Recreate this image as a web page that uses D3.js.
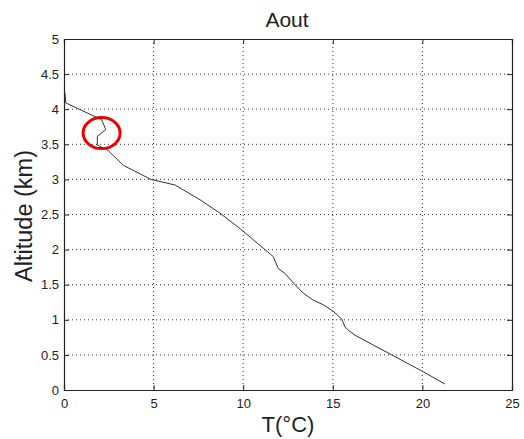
<!DOCTYPE html>
<html><head><meta charset="utf-8">
<script src="https://cdn.jsdelivr.net/npm/d3@7"></script>
<style>body{margin:0;background:#fff}svg{display:block}text{font-family:"Liberation Sans",Arial,sans-serif;fill:#222}</style>
</head><body><svg id="c" width="524" height="439"></svg>
<script>
const title = "Aout";
const xLabel = "T(°C)";
const yLabel = "Altitude (km)";
const xTicks = [0,5,10,15,20,25];
const yTicks = [0,0.5,1,1.5,2,2.5,3,3.5,4,4.5,5];
const yTickLabels = ["0","0.5","1","1.5","2","2.5","3","3.5","4","4.5","5"];
const temperature = [0.0,0.05,0.1,2.1,2.33,1.86,1.86,2.47,3.31,4.85,6.2,6.66,7.59,8.7,9.92,11.12,11.68,11.96,12.33,12.89,13.35,13.91,14.5,15.03,15.5,15.68,15.87,16.24,17.26,18.29,19.31,20.05,21.26];
const altitude    = [4.25,4.24,4.09,3.85,3.71,3.61,3.49,3.41,3.2,3.0,2.92,2.85,2.71,2.52,2.28,2.02,1.9,1.73,1.66,1.5,1.38,1.28,1.21,1.12,1.01,0.9,0.85,0.78,0.64,0.5,0.36,0.26,0.085];
const marker = {t:2.1, a:3.66};

const svg = d3.select("#c");
const L=64,R=512,T=39,B=390;
const x = d3.scaleLinear().domain([0,25]).range([L,R]);
const y = d3.scaleLinear().domain([0,5]).range([B,T]);

// grid
const g = svg.append("g");
g.selectAll(".gx").data(xTicks.slice(1,-1)).join("line")
 .attr("x1",d=>x(d)).attr("x2",d=>x(d)).attr("y1",T).attr("y2",B)
 .attr("stroke","#333").attr("stroke-width",1).attr("stroke-dasharray","1,3");
g.selectAll(".gy").data(yTicks.slice(1,-1)).join("line")
 .attr("y1",d=>y(d)).attr("y2",d=>y(d)).attr("x1",L).attr("x2",R)
 .attr("stroke","#333").attr("stroke-width",1).attr("stroke-dasharray","1,3");

// axes
const tl=5;
const ax = d3.axisBottom(x).tickValues(xTicks).tickSize(-tl).tickPadding(9).tickFormat(d3.format("d"));
const ay = d3.axisLeft(y).tickValues(yTicks).tickSize(-tl).tickPadding(5).tickFormat((d,i)=>yTickLabels[i]);
const axT = d3.axisTop(x).tickValues(xTicks).tickSize(-tl).tickFormat("");
const ayR = d3.axisRight(y).tickValues(yTicks).tickSize(-tl).tickFormat("");
function style(sel){sel.selectAll("path").attr("stroke","#222").attr("stroke-width",1.2);
 sel.selectAll("line").attr("stroke","#222");
 sel.selectAll("text").attr("font-size",13).attr("fill","#222").attr("font-family","Liberation Sans, Arial, sans-serif");}
svg.append("g").attr("transform",`translate(0,${B})`).call(ax).call(style);
svg.append("g").attr("transform",`translate(${L},0)`).call(ay).call(style);
svg.append("g").attr("transform",`translate(0,${T})`).call(axT).call(style);
svg.append("g").attr("transform",`translate(${R},0)`).call(ayR).call(style);

// line
const pts = temperature.map((t,i)=>[t,altitude[i]]);
svg.append("path").datum(pts)
 .attr("d", d3.line().x(d=>x(d[0])).y(d=>y(d[1])))
 .attr("fill","none").attr("stroke","#333").attr("stroke-width",1);

// red circle
svg.append("ellipse").attr("cx",x(marker.t)).attr("cy",y(marker.a))
 .attr("rx",18.5).attr("ry",15.5).attr("fill","none").attr("stroke","#e00").attr("stroke-width",3);

// labels
svg.append("text").attr("x",287).attr("y",26.5).attr("text-anchor","middle").attr("font-size",21).text(title);
svg.append("text").attr("x",288).attr("y",431.5).attr("text-anchor","middle").attr("font-size",22).text(xLabel);
svg.append("text").attr("transform",`translate(32,216) rotate(-90)`).attr("text-anchor","middle").attr("font-size",23.5).text(yLabel);
</script></body></html>
